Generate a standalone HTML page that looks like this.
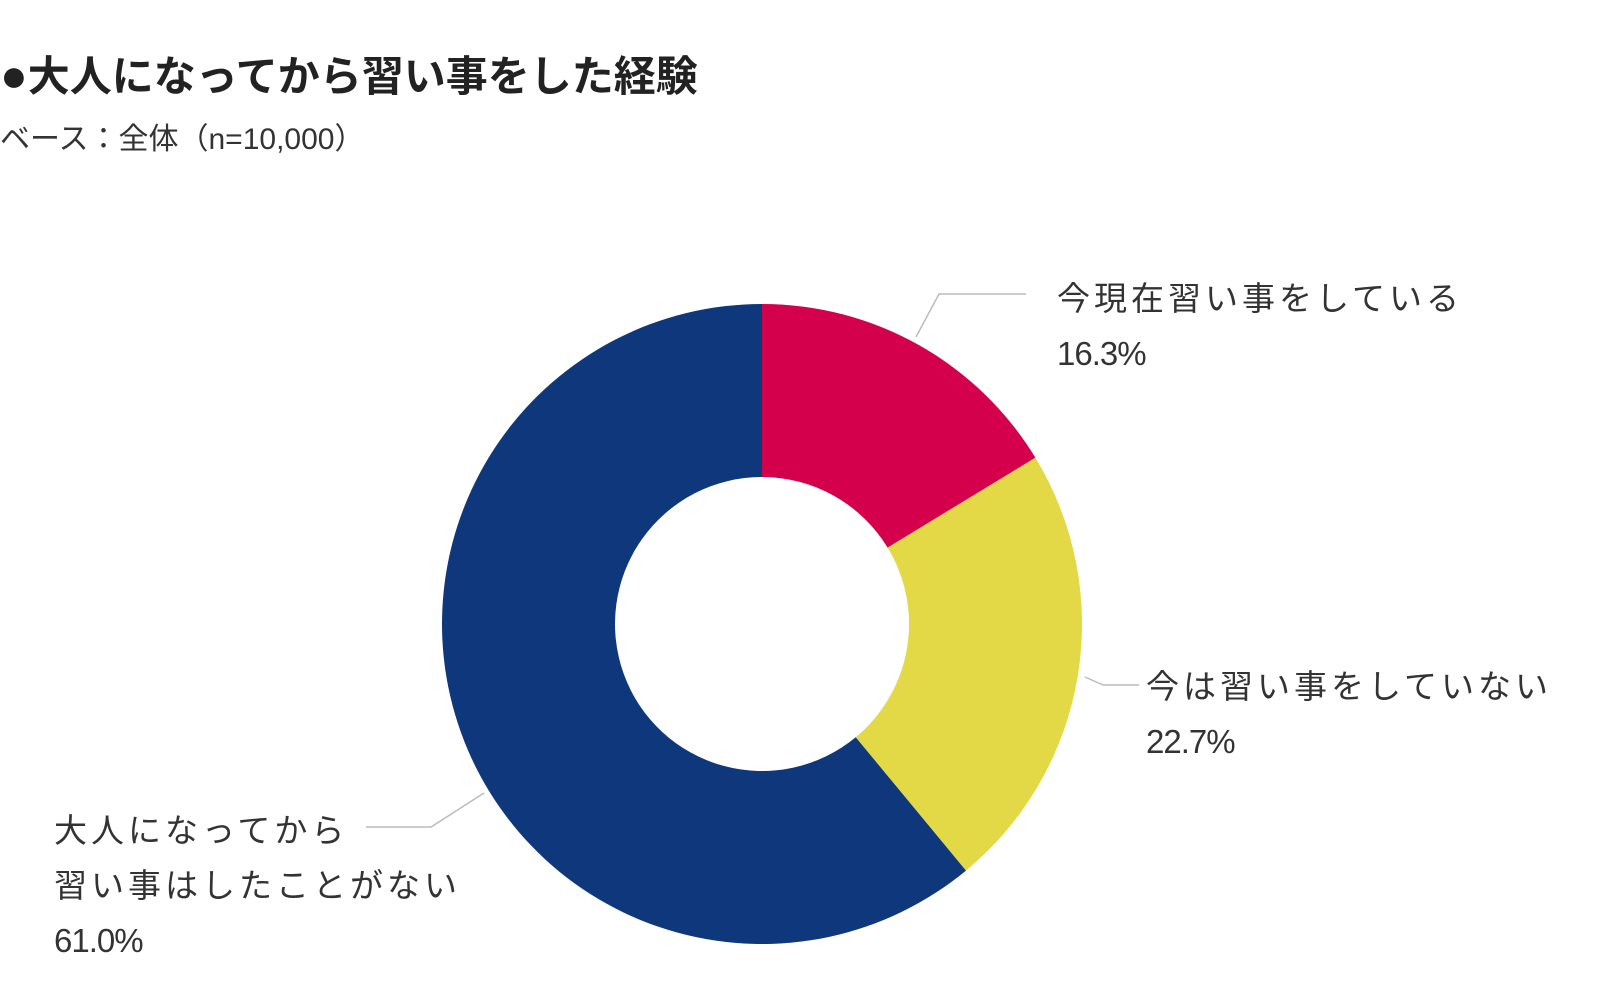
<!DOCTYPE html>
<html><head><meta charset="utf-8"><style>
body{margin:0;width:1600px;height:986px;background:#fff;overflow:hidden;font-family:"Liberation Sans","Noto Sans CJK JP",sans-serif;color:#222}
#t{position:absolute;left:0;top:50px;font-size:42px;font-weight:bold;letter-spacing:0px;white-space:nowrap;line-height:50px}
#t span{font-size:46px}
#s{position:absolute;left:0;top:114px;font-size:30px;color:#333;white-space:nowrap}
svg{position:absolute;left:0;top:0}
</style></head><body>
<div id="t"><span>●</span>大人になってから習い事をした経験</div>
<div id="s">ベース：全体（n=10,000）</div>
<svg id="c" width="1600" height="986"></svg>
<script>
const categories=["今現在習い事をしている","今は習い事をしていない","大人になってから習い事はしたことがない"];
const values=[16.3,22.7,61.0];
const colors=["#d4004c","#e3d845","#0e377c"];
const labelLines=[["今現在習い事をしている"],["今は習い事をしていない"],["大人になってから","習い事はしたことがない"]];
const labelPos=[[1057,310],[1146,698],[54,842]];
const leaders=[[[916,337],[939,294],[1026,294]],[[1085,677],[1103,685],[1139,685]],[[484,793],[431,827],[366,827]]];
const NS="http://www.w3.org/2000/svg",svg=document.getElementById('c');
const cx=762,cy=624,R=320,r=147;
const total=values.reduce((a,b)=>a+b,0);
function pt(a,rad){return [cx+rad*Math.sin(a),cy-rad*Math.cos(a)];}
let acc=0;
values.forEach((v,i)=>{
  const a0=acc/total*2*Math.PI;acc+=v;const a1=acc/total*2*Math.PI;
  const lg=(a1-a0)>Math.PI?1:0;
  const p1=pt(a0,R),p2=pt(a1,R),p3=pt(a1,r),p4=pt(a0,r);
  const p=document.createElementNS(NS,'path');
  p.setAttribute('d',`M${p1[0]},${p1[1]}A${R},${R} 0 ${lg} 1 ${p2[0]},${p2[1]}L${p3[0]},${p3[1]}A${r},${r} 0 ${lg} 0 ${p4[0]},${p4[1]}Z`);
  p.setAttribute('fill',colors[i]);
  
  
  svg.appendChild(p);
  const l=document.createElementNS(NS,'polyline');
  l.setAttribute('points',leaders[i].map(q=>q.join(',')).join(' '));
  l.setAttribute('fill','none');l.setAttribute('stroke','#bbb');l.setAttribute('stroke-width','1.5');
  
  
  svg.appendChild(l);
  const lines=labelLines[i].concat([v.toFixed(1)+'%']);
  lines.forEach((s,j)=>{
    const t=document.createElementNS(NS,'text');
    t.setAttribute('x',labelPos[i][0]);t.setAttribute('y',labelPos[i][1]+j*55);
    t.setAttribute('font-size','33');t.setAttribute('fill','#333');
    t.setAttribute('letter-spacing',j<lines.length-1?'4':'-1');
    t.textContent=s;
    
    
    svg.appendChild(t);
  });
});
</script>
</body></html>
